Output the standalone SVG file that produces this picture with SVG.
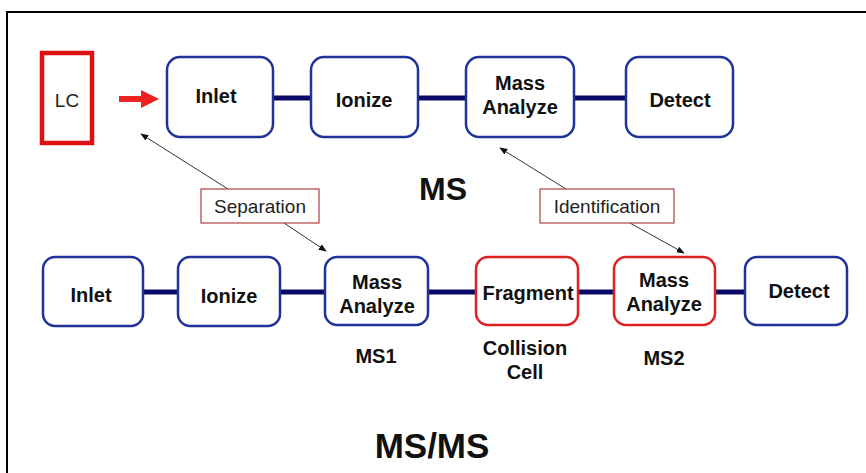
<svg xmlns="http://www.w3.org/2000/svg" width="866" height="473" viewBox="0 0 866 473">
<defs>
<style>
.blue{fill:#fff;stroke:#1f3399;stroke-width:2.5}
.red{fill:#fff;stroke:#dd2222;stroke-width:2.5}
.lbl{font-family:"Liberation Sans",Arial,sans-serif;font-weight:bold;font-size:20px;fill:#111;text-anchor:middle}
.bar{stroke:#0a0a66;stroke-width:5;fill:none}
.thin{stroke:#333;stroke-width:1;fill:none;marker-end:url(#ah)}
.note{fill:#fff;stroke:#b04040;stroke-width:1.2}
.notet{font-family:"Liberation Sans",Arial,sans-serif;font-size:19px;fill:#222;text-anchor:middle}
.big{font-family:"Liberation Sans",Arial,sans-serif;font-weight:bold;fill:#111;text-anchor:middle}
</style>
<marker id="ah" viewBox="0 0 10 10" refX="9" refY="5" markerWidth="8" markerHeight="8" orient="auto" markerUnits="userSpaceOnUse"><path d="M0,1 L10,5 L0,9 z" fill="#111"/></marker>
</defs>
<rect width="866" height="473" fill="#fff"/>
<path d="M7,473 V12 H866" fill="none" stroke="#000" stroke-width="2"/>

<g id="connectors">
<line class="bar" x1="273" y1="98" x2="311" y2="98"/>
<line class="bar" x1="418" y1="98" x2="466" y2="98"/>
<line class="bar" x1="574" y1="98" x2="626" y2="98"/>
<line class="bar" x1="143" y1="292" x2="178" y2="292"/>
<line class="bar" x1="280" y1="292" x2="325" y2="292"/>
<line class="bar" x1="428" y1="292" x2="476" y2="292"/>
<line class="bar" x1="578" y1="292" x2="614" y2="292"/>
<line class="bar" x1="715" y1="292" x2="745" y2="292"/>
<path d="M119,99 H143" stroke="#ee2222" stroke-width="6" fill="none"/>
<path d="M141,90 L159,99 L141,108 z" fill="#ee2222"/>
<line class="thin" x1="228" y1="189" x2="141" y2="134"/>
<line class="thin" x1="284" y1="223" x2="326" y2="251"/>
<line class="thin" x1="566" y1="189" x2="500" y2="148"/>
<line class="thin" x1="630" y1="223" x2="684" y2="253"/>
</g>

<g id="lc"><rect x="42" y="53" width="50" height="90" fill="#fff" stroke="#dd1111" stroke-width="4.5"/><text x="67" y="107" class="notet">LC</text></g>

<g id="inlet1"><rect class="blue" x="167" y="57" width="106" height="80" rx="13"/><text class="lbl" x="216" y="103">Inlet</text></g>
<g id="ionize1"><rect class="blue" x="311" y="57" width="107" height="80" rx="13"/><text class="lbl" x="364" y="107">Ionize</text></g>
<g id="mass1"><rect class="blue" x="466" y="57" width="108" height="80" rx="13"/><text class="lbl" x="520" y="90">Mass</text><text class="lbl" x="520" y="114">Analyze</text></g>
<g id="detect1"><rect class="blue" x="626" y="57" width="107" height="80" rx="13"/><text class="lbl" x="680" y="107">Detect</text></g>

<g id="ms"><text x="443" y="200" class="big" font-size="32">MS</text></g>

<g id="sep"><rect class="note" x="201" y="189" width="118" height="34"/><text class="notet" x="260" y="213">Separation</text></g>
<g id="ident"><rect class="note" x="540" y="189" width="134" height="34"/><text class="notet" x="607" y="213">Identification</text></g>

<g id="inlet2"><rect class="blue" x="43" y="257" width="100" height="69" rx="12"/><text class="lbl" x="91" y="302">Inlet</text></g>
<g id="ionize2"><rect class="blue" x="178" y="257" width="102" height="69" rx="12"/><text class="lbl" x="229" y="303">Ionize</text></g>
<g id="mass2"><rect class="blue" x="325" y="257" width="103" height="68" rx="12"/><text class="lbl" x="377" y="289">Mass</text><text class="lbl" x="377" y="313">Analyze</text><text class="lbl" x="376" y="363">MS1</text></g>
<g id="fragment"><rect class="red" x="476" y="257" width="102" height="68" rx="12"/><text class="lbl" x="528" y="300">Fragment</text><text class="lbl" x="525" y="355">Collision</text><text class="lbl" x="525" y="379">Cell</text></g>
<g id="mass3"><rect class="red" x="614" y="257" width="101" height="68" rx="12"/><text class="lbl" x="664" y="287">Mass</text><text class="lbl" x="664" y="311">Analyze</text><text class="lbl" x="664" y="365">MS2</text></g>
<g id="detect2"><rect class="blue" x="745" y="257" width="102" height="68" rx="12"/><text class="lbl" x="799" y="298">Detect</text></g>

<g id="msms"><text x="432" y="458" class="big" font-size="35">MS/MS</text></g>
</svg>
